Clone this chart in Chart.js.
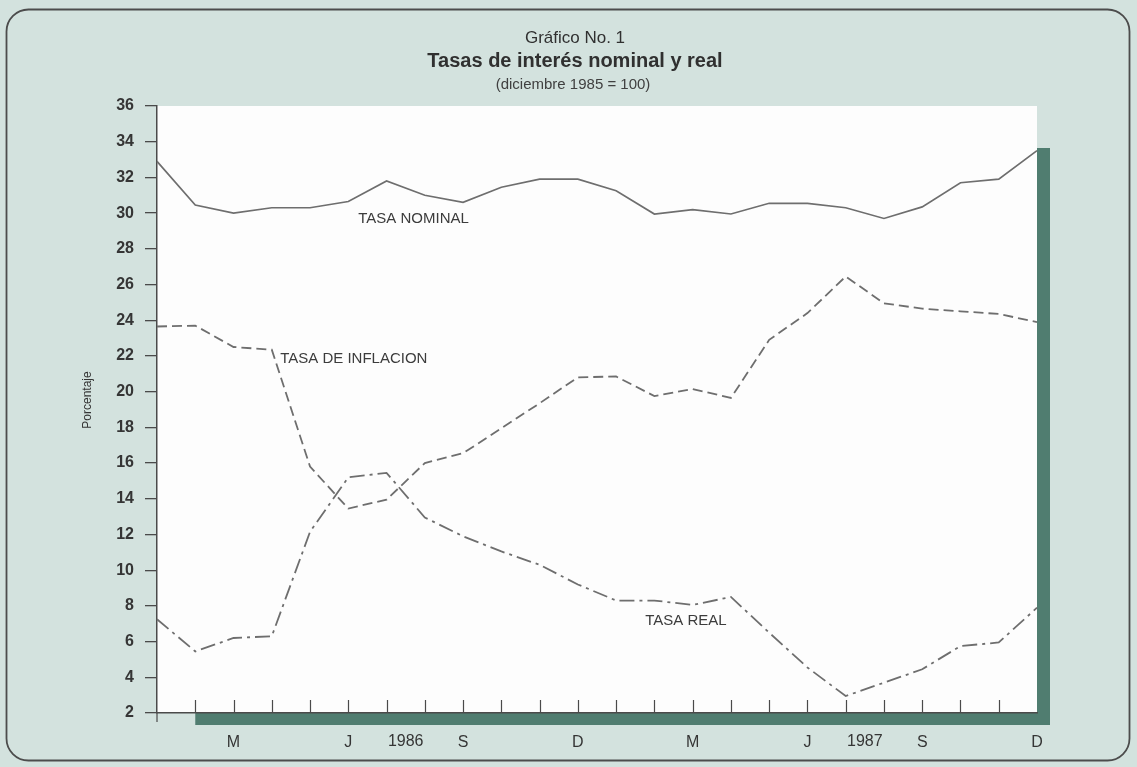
<!DOCTYPE html>
<html>
<head>
<meta charset="utf-8">
<script src="https://cdn.jsdelivr.net/npm/chart.js@4.4.1/dist/chart.umd.min.js"></script>
<style>
  html, body { margin: 0; padding: 0; background: #d4e1dc; }
  #wrap { width: 1137px; height: 767px; position: relative; }
</style>
</head>
<body>
<div id="wrap"><canvas id="c" width="1137" height="767"></canvas></div>
<script>
// ---- Data ----
const months = ['E','F','M','A','M','J','J','A','S','O','N','D',
                'E','F','M','A','M','J','J','A','S','O','N','D'];
const tickLabels = ['', '', 'M', '', '', 'J', '', '', 'S', '', '', 'D',
                    '', '', 'M', '', '', 'J', '', '', 'S', '', '', 'D'];
const yearLabels = ['1986', '1987'];
const yearAt = [6.5, 18.5];

const tasaNominal = [32.9, 30.45, 30.0, 30.3, 30.3, 30.65, 31.8, 31.0, 30.6, 31.45, 31.9, 31.9,
                     31.25, 29.95, 30.2, 29.95, 30.55, 30.55, 30.3, 29.7, 30.35, 31.7, 31.9, 33.5];
const tasaInflacion = [23.65, 23.7, 22.5, 22.35, 15.8, 13.45, 13.95, 16.0, 16.55, 17.95, 19.35, 20.8,
                       20.85, 19.75, 20.15, 19.65, 22.9, 24.4, 26.45, 24.95, 24.65, 24.5, 24.35, 23.9];
const tasaReal = [7.25, 5.45, 6.2, 6.3, 12.15, 15.2, 15.45, 12.95, 11.9, 11.05, 10.3, 9.2,
                  8.3, 8.3, 8.05, 8.5, 6.5, 4.55, 2.95, 3.7, 4.45, 5.75, 5.95, 7.9];
const seriesNames = ['TASA NOMINAL', 'TASA DE INFLACION', 'TASA REAL'];
const yMin = 2, yMax = 36, yStep = 2;

const FONT = '"Liberation Sans", Arial, Helvetica, sans-serif';
const LINE = '#6e6e6e';
const AXIS = '#4a4a4a';
const TEXT = '#353535';

const deco = {
  id: 'deco',
  beforeDraw(chart) {
    const { ctx, chartArea: a } = chart;
    const xs = chart.scales.x;
    ctx.save();
    ctx.fillStyle = '#d3e2de';
    ctx.fillRect(0, 0, chart.width, chart.height);
    // rounded frame
    ctx.strokeStyle = '#4c4c4c';
    ctx.lineWidth = 1.8;
    ctx.beginPath();
    ctx.roundRect(6.5, 9.5, 1123, 751, 22);
    ctx.stroke();
    // shadows
    ctx.fillStyle = '#507d70';
    ctx.fillRect(a.right, a.top + 42, 13, a.bottom - a.top - 42 + 12);
    const x1 = xs.getPixelForValue(1);
    ctx.fillRect(x1, a.bottom, a.right + 13 - x1, 12);
    // plot area
    ctx.fillStyle = '#fdfdfd';
    ctx.fillRect(a.left, a.top, a.width, a.height);
    ctx.restore();
  },
  afterDraw(chart) {
    const { ctx, chartArea: a } = chart;
    const xs = chart.scales.x, ys = chart.scales.y;
    ctx.save();
    // inward x ticks
    ctx.strokeStyle = AXIS;
    ctx.lineWidth = 1.2;
    ctx.beginPath();
    for (let i = 1; i < months.length - 1; i++) {
      const x = Math.round(xs.getPixelForValue(i)) + 0.5;
      ctx.moveTo(x, a.bottom - 13);
      ctx.lineTo(x, a.bottom);
    }
    // y axis extends below
    ctx.moveTo(a.left, a.bottom);
    ctx.lineTo(a.left, a.bottom + 9);
    ctx.stroke();

    // year labels
    ctx.fillStyle = TEXT;
    ctx.font = '16px ' + FONT;
    ctx.textAlign = 'center';
    ctx.textBaseline = 'middle';
    yearLabels.forEach((t, i) => ctx.fillText(t, xs.getPixelForValue(yearAt[i]), 742));

    // titles
    ctx.fillStyle = '#303030';
    ctx.font = '17px ' + FONT;
    ctx.fillText('Gráfico No. 1', 575, 38);
    ctx.font = 'bold 20px ' + FONT;
    ctx.fillText('Tasas de interés nominal y real', 575, 61);
    ctx.font = '15px ' + FONT;
    ctx.fillStyle = '#404040';
    ctx.fillText('(diciembre 1985 = 100)', 573, 85);

    // y title
    ctx.save();
    ctx.translate(88, 400);
    ctx.rotate(-Math.PI / 2);
    ctx.font = '12px ' + FONT;
    ctx.fillStyle = '#353535';
    ctx.fillText('Porcentaje', 0, 0);
    ctx.restore();

    // series labels
    ctx.fillStyle = '#3c3c3c';
    ctx.font = '15px ' + FONT;
    ctx.textAlign = 'left';
    ctx.fillText(seriesNames[0], xs.getPixelForValue(5.26), ys.getPixelForValue(29.66));
    ctx.fillText(seriesNames[1], xs.getPixelForValue(3.22), ys.getPixelForValue(21.83));
    ctx.fillText(seriesNames[2], xs.getPixelForValue(12.76), ys.getPixelForValue(7.18));
    ctx.restore();
  }
};

new Chart(document.getElementById('c'), {
  type: 'line',
  data: {
    labels: months,
    datasets: [
      { label: seriesNames[0], data: tasaNominal, borderColor: LINE, borderWidth: 1.7,
        pointRadius: 0, tension: 0, fill: false },
      { label: seriesNames[1], data: tasaInflacion, borderColor: LINE, borderWidth: 1.8,
        borderDash: [10, 5], pointRadius: 0, tension: 0, fill: false },
      { label: seriesNames[2], data: tasaReal, borderColor: LINE, borderWidth: 1.8,
        borderDash: [15, 5, 3, 5], pointRadius: 0, tension: 0, fill: false }
    ]
  },
  options: {
    responsive: false,
    animation: false,
    devicePixelRatio: 1,
    layout: { padding: { left: 100, right: 100, top: 106, bottom: 14 } },
    plugins: { legend: { display: false }, tooltip: { enabled: false }, title: { display: false } },
    scales: {
      x: {
        type: 'category',
        offset: false,
        grid: { display: false, drawTicks: false },
        border: { display: true, color: AXIS, width: 1.5 },
        ticks: {
          autoSkip: false, maxRotation: 0, padding: 20,
          color: TEXT, font: { family: FONT, size: 16 },
          callback: (v, i) => tickLabels[i]
        },
        afterFit: s => { s.height = 40; }
      },
      y: {
        min: yMin, max: yMax,
        grid: { display: true, drawOnChartArea: false, drawTicks: true, tickLength: 12, color: AXIS, lineWidth: 1.3 },
        border: { display: true, color: AXIS, width: 1.5 },
        ticks: { stepSize: yStep, padding: 11, color: TEXT, font: { family: FONT, size: 16, weight: 'bold' } },
        afterFit: s => { s.width = 57; }
      }
    }
  },
  plugins: [deco]
});
</script>
</body>
</html>
